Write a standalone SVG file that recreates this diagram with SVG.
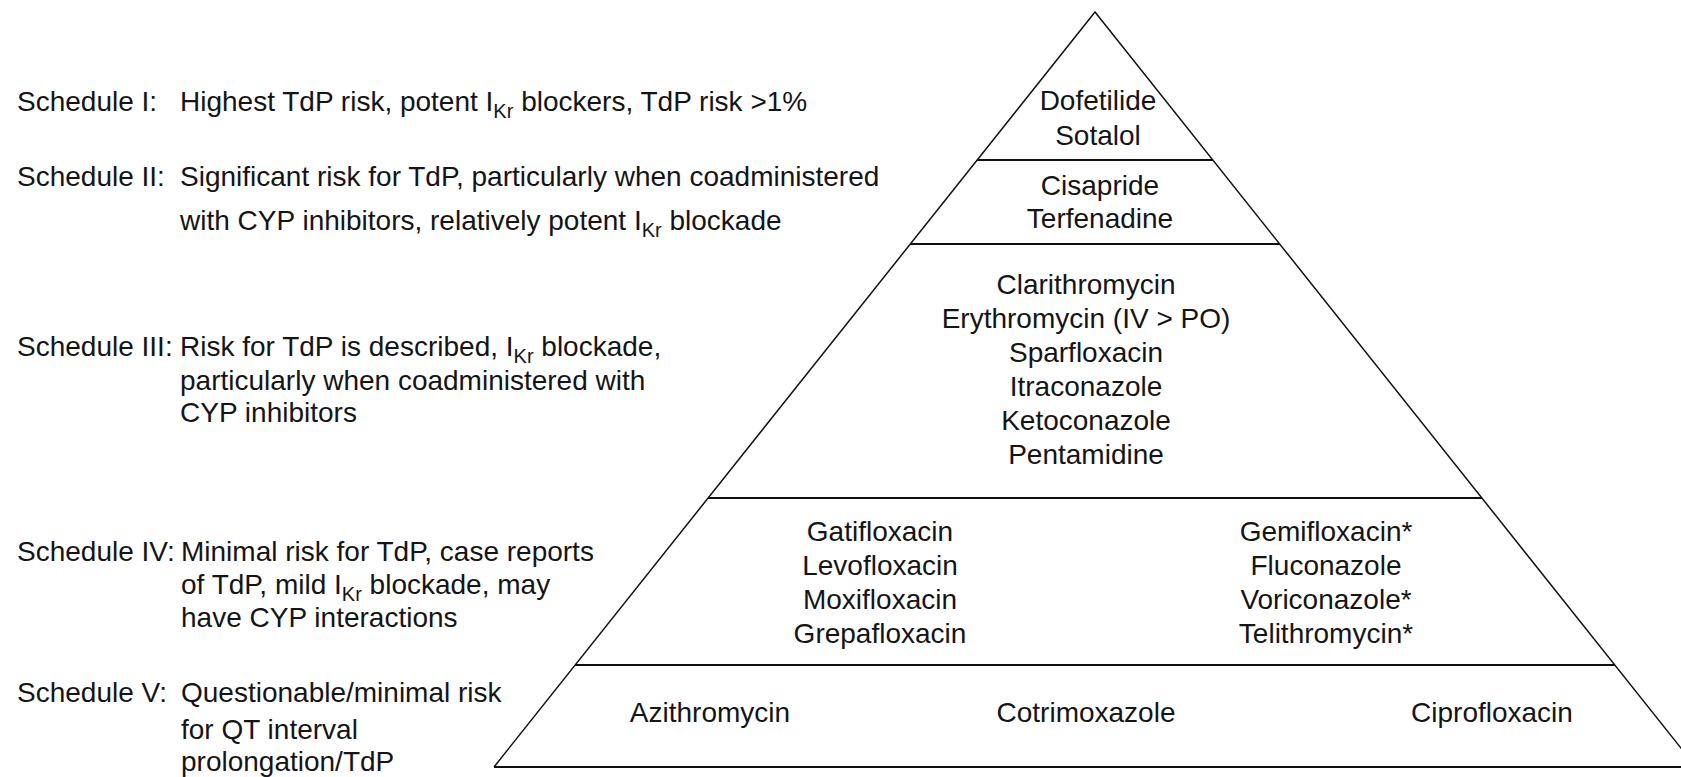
<svg xmlns="http://www.w3.org/2000/svg" width="1681" height="777" viewBox="0 0 1681 777">
  <style>
    text { font-family: "Liberation Sans", Arial, sans-serif; font-size: 28px; fill: #151515; }
    .c { text-anchor: middle; }
    .sub { font-size: 20px; }
    .side { fill: none; stroke: #111; stroke-width: 1.5; stroke-linejoin: miter; }
    .tier { stroke: #111; stroke-width: 2.2; }
  </style>
  <rect width="1681" height="777" fill="#fff"/>

  <g id="connectors">
    <polyline class="side" points="494,767 1095,12 1696,767"/>
    <line class="tier" x1="977" y1="160" x2="1213" y2="160"/>
    <line class="tier" x1="910" y1="244" x2="1280" y2="244"/>
    <line class="tier" x1="708" y1="498" x2="1482" y2="498"/>
    <line class="tier" x1="575" y1="665" x2="1615" y2="665"/>
    <line class="tier" x1="494" y1="767" x2="1696" y2="767"/>
  </g>

  <g id="schedule-1">
    <text x="17" y="111">Schedule I:</text>
    <text x="180" y="111">Highest TdP risk, potent I<tspan class="sub" dy="7">Kr</tspan><tspan dy="-7"> blockers, TdP risk &gt;1%</tspan></text>
  </g>
  <g id="schedule-2">
    <text x="17" y="186">Schedule II:</text>
    <text x="180" y="186">Significant risk for TdP, particularly when coadministered</text>
    <text x="180" y="230">with CYP inhibitors, relatively potent I<tspan class="sub" dy="7">Kr</tspan><tspan dy="-7"> blockade</tspan></text>
  </g>
  <g id="schedule-3">
    <text x="17" y="356">Schedule III:</text>
    <text x="180" y="356">Risk for TdP is described, I<tspan class="sub" dy="7">Kr</tspan><tspan dy="-7"> blockade,</tspan></text>
    <text x="180" y="390">particularly when coadministered with</text>
    <text x="180" y="422">CYP inhibitors</text>
  </g>
  <g id="schedule-4">
    <text x="17" y="561">Schedule IV:</text>
    <text x="181" y="561">Minimal risk for TdP, case reports</text>
    <text x="181" y="594">of TdP, mild I<tspan class="sub" dy="7">Kr</tspan><tspan dy="-7"> blockade, may</tspan></text>
    <text x="181" y="627">have CYP interactions</text>
  </g>
  <g id="schedule-5">
    <text x="17" y="702">Schedule V:</text>
    <text x="181" y="702">Questionable/minimal risk</text>
    <text x="181" y="739">for QT interval</text>
    <text x="181" y="771">prolongation/TdP</text>
  </g>

  <g id="tier-1">
    <text class="c" x="1098" y="110">Dofetilide</text>
    <text class="c" x="1098" y="145">Sotalol</text>
  </g>
  <g id="tier-2">
    <text class="c" x="1100" y="195">Cisapride</text>
    <text class="c" x="1100" y="228">Terfenadine</text>
  </g>
  <g id="tier-3">
    <text class="c" x="1086" y="294">Clarithromycin</text>
    <text class="c" x="1086" y="328">Erythromycin (IV &gt; PO)</text>
    <text class="c" x="1086" y="362">Sparfloxacin</text>
    <text class="c" x="1086" y="396">Itraconazole</text>
    <text class="c" x="1086" y="430">Ketoconazole</text>
    <text class="c" x="1086" y="464">Pentamidine</text>
  </g>
  <g id="tier-4">
    <text class="c" x="880" y="541">Gatifloxacin</text>
    <text class="c" x="880" y="575">Levofloxacin</text>
    <text class="c" x="880" y="609">Moxifloxacin</text>
    <text class="c" x="880" y="643">Grepafloxacin</text>
    <text class="c" x="1326" y="541">Gemifloxacin*</text>
    <text class="c" x="1326" y="575">Fluconazole</text>
    <text class="c" x="1326" y="609">Voriconazole*</text>
    <text class="c" x="1326" y="643">Telithromycin*</text>
  </g>
  <g id="tier-5">
    <text class="c" x="710" y="722">Azithromycin</text>
    <text class="c" x="1086" y="722">Cotrimoxazole</text>
    <text class="c" x="1492" y="722">Ciprofloxacin</text>
  </g>
</svg>
